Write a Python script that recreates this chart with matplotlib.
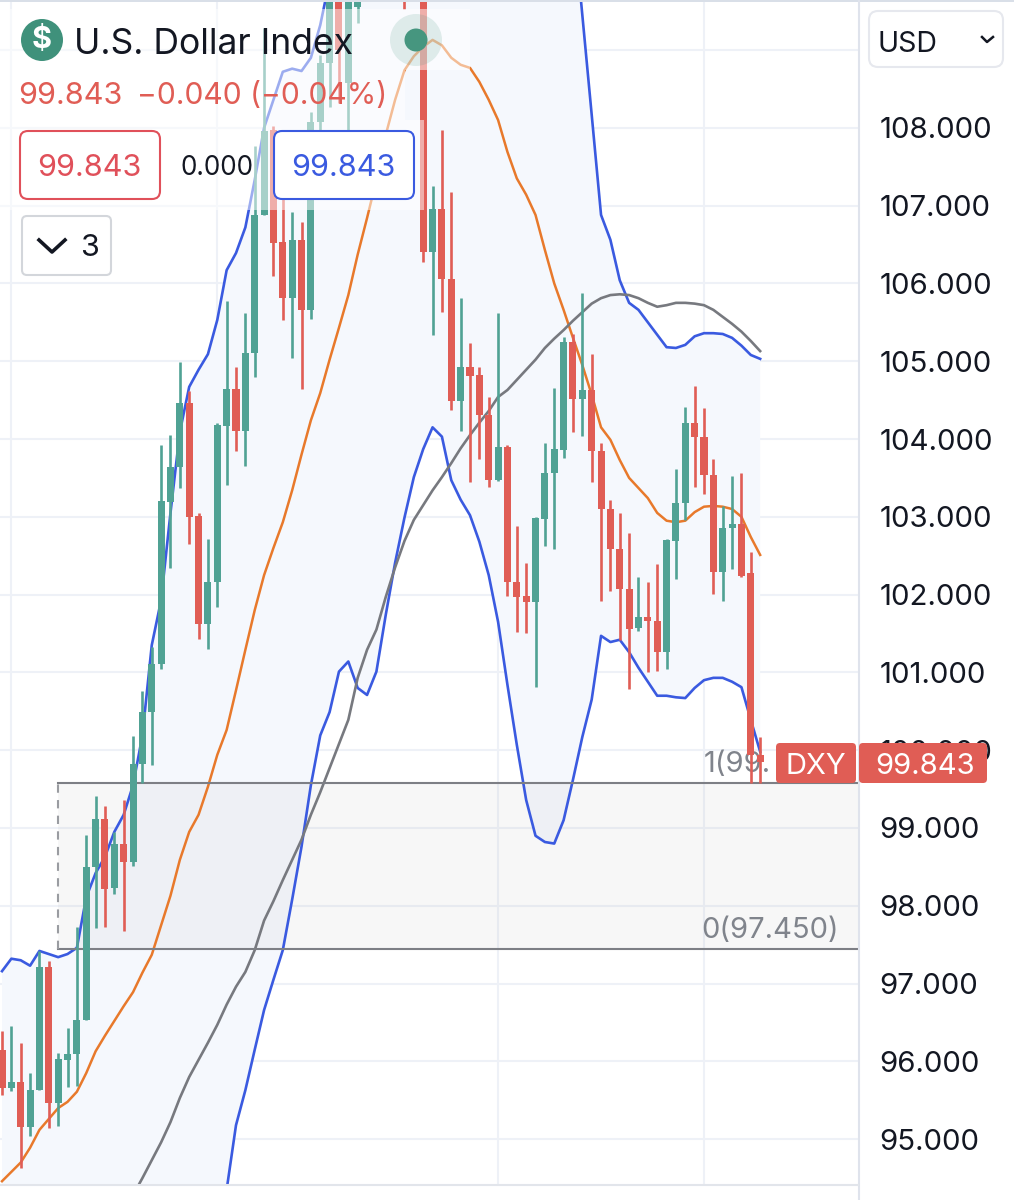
import numpy as np
import matplotlib
matplotlib.use("Agg")
import matplotlib.pyplot as plt
from matplotlib.patches import FancyBboxPatch, Rectangle, Circle

plt.rcParams['font.family'] = ['Inter', 'DejaVu Sans']

nan = np.nan

opens = [96.15,95.66,95.74,95.16,95.63,97.21,95.47,96.02,96.10,96.53,
         98.50,99.12,98.23,98.80,98.56,99.82,100.49,101.11,103.19,103.64,
         104.46,103.01,101.62,102.16,104.17,104.64,104.10,105.11,106.88,107.97,
         106.53,105.81,106.56,105.66,108.08,108.83,109.9,108.58,109.55,nan,
         nan,nan,nan,110.5,nan,110.3,106.40,106.96,106.06,104.49,
         104.93,104.82,104.31,103.47,103.90,102.16,101.98,101.90,102.97,103.56,
         103.86,105.25,104.51,104.63,103.85,103.10,102.59,102.07,101.57,101.71,
         101.66,101.26,102.69,103.18,104.21,104.03,103.54,102.29,102.86,102.91,
         102.28,99.94]
closes = [95.66,95.74,95.16,95.63,97.21,95.47,96.03,96.10,96.53,98.50,
          99.12,98.22,98.80,98.56,99.82,100.49,101.11,103.20,103.64,104.46,
          103.00,101.62,102.16,104.18,104.64,104.10,105.11,106.88,107.96,106.52,
          105.81,106.56,105.66,108.08,108.83,109.9,109.00,109.9,109.9,nan,
          nan,nan,nan,110.3,nan,106.40,106.96,106.06,104.49,104.93,
          104.81,104.31,103.47,103.90,102.16,101.97,101.90,102.98,103.56,103.87,
          105.25,104.51,104.63,103.85,103.10,102.59,102.07,101.56,101.71,101.66,
          101.26,102.70,103.18,104.21,104.03,103.54,102.29,102.86,102.91,102.24,
          99.94,99.843]
highs = [96.39,96.46,96.24,95.85,97.42,97.29,96.11,96.43,97.73,98.91,
         99.41,99.28,98.95,99.36,100.18,100.76,101.33,103.92,104.05,104.99,
         104.62,103.05,102.72,104.21,105.77,104.93,105.62,107.77,109.28,108.02,
         107.20,106.92,106.79,108.20,108.94,110,110,110,110,nan,
         nan,nan,nan,110.6,nan,110.6,107.25,107.97,107.17,105.81,
         105.23,104.93,104.54,105.62,103.92,102.88,102.41,103.00,103.95,104.66,
         105.31,105.35,105.88,105.09,103.95,103.22,103.05,102.79,102.23,102.16,
         102.39,102.71,103.61,104.41,104.68,104.40,103.74,103.14,103.53,103.56,
         102.55,100.17]
lows = [95.57,95.62,94.63,95.04,95.63,95.14,95.17,95.67,95.68,96.53,
        97.72,97.73,98.15,97.68,98.51,99.58,99.81,101.04,102.34,103.37,
        102.65,101.43,101.30,101.84,103.41,103.85,103.65,104.80,106.88,106.09,
        105.53,105.04,104.64,105.54,107.97,108.27,108.32,107.91,109.35,nan,
        nan,nan,nan,109.53,nan,106.28,105.34,105.63,104.37,104.10,
        103.45,103.74,103.38,103.46,101.98,101.52,101.51,100.81,102.63,102.59,
        103.76,104.09,104.04,103.45,101.92,102.05,101.42,100.79,101.53,101.00,
        101.02,101.04,102.20,102.96,103.38,103.29,102.01,101.92,102.33,102.23,
        99.58,99.58]

# bollinger bands (the stretch above the chart is only a guess, it gets clipped)
band_upper = [97.16,97.32,97.30,97.23,97.42,97.38,97.34,97.38,97.46,98.11,
              98.42,98.63,98.95,99.17,99.55,100.19,101.35,101.93,103.05,104.09,
              104.67,104.89,105.09,105.53,106.17,106.39,106.72,107.33,108.00,108.36,
              108.72,108.76,108.73,108.90,109.32,109.90] + [112.0] * 25 + [
              110.74,109.45,108.17,106.88,106.56,106.04,105.75,105.66,105.50,105.34,
              105.18,105.17,105.21,105.32,105.36,105.36,105.35,105.30,105.20,105.08,
              105.03]
band_lower = [93.5] * 24 + [94.35,95.18,95.63,96.15,96.66,97.05,
              97.43,98.08,98.76,99.55,100.19,100.49,101.01,101.14,100.80,100.71,
              101.01,101.74,102.41,102.99,103.51,103.87,104.15,104.03,103.47,103.22,
              103.02,102.68,102.25,101.65,100.84,100.07,99.36,98.90,98.82,98.80,
              99.10,99.62,100.17,100.65,101.47,101.39,101.42,101.26,101.06,100.88,
              100.70,100.70,100.68,100.67,100.80,100.90,100.93,100.93,100.88,100.81,
              100.39,99.98]
band_mid = [94.46,94.58,94.70,94.89,95.12,95.26,95.40,95.48,95.61,95.85,
            96.13,96.33,96.52,96.71,96.89,97.14,97.37,97.75,98.13,98.59,
            98.95,99.17,99.53,99.94,100.26,100.77,101.29,101.80,102.25,102.60,
            102.93,103.34,103.80,104.24,104.59,105.02,105.43,105.85,106.37,106.84,
            107.33,107.91,108.36,108.74,108.92,109.04,109.13,109.06,108.90,108.81,
            108.77,108.59,108.36,108.10,107.69,107.35,107.14,106.88,106.43,106.00,
            105.66,105.30,104.95,104.57,104.15,103.99,103.73,103.50,103.37,103.24,
            103.05,102.95,102.93,102.95,103.06,103.13,103.14,103.13,103.10,103.00,
            102.74,102.51]
long_ma = [nan] * 14 + [94.28,94.50,94.73,94.96,95.22,95.53,
           95.80,96.02,96.24,96.47,96.73,96.96,97.15,97.43,97.81,98.06,
           98.33,98.59,98.85,99.17,99.46,99.77,100.08,100.39,100.93,101.29,
           101.55,101.97,102.35,102.69,102.96,103.15,103.34,103.51,103.69,103.88,
           104.05,104.21,104.36,104.54,104.63,104.76,104.89,105.02,105.17,105.29,
           105.40,105.52,105.63,105.74,105.81,105.85,105.86,105.85,105.81,105.75,
           105.70,105.72,105.75,105.75,105.74,105.72,105.66,105.57,105.48,105.38,
           105.26,105.13]

price_ticks = list(range(95, 110))
# the 109 gridline has its label hidden behind the currency box
price_labels = [f"{p}.000" for p in range(95, 109)] + [""]
grid_candles = [1, 23, 53, 75]
fib_top = 99.58
fib_bottom = 97.45
fib_start = 6

GREEN = "#50a294"
RED = "#e05d55"
BLUE = "#3a5ae0"
ORANGE = "#e8792b"
GRAY = "#77797f"
GRID = "#eef1f7"
TEXT = "#131722"
LABEL_GRAY = "#80848c"

W, H = 1014, 1200
CHART_R, CHART_T, CHART_B = 858, 2, 1185
PX_PER_CANDLE = 9.36
PX_PER_POINT = 77.8


def rounded(ax, x0, y0, x1, y1, r, face, edge, lw=1.5, zorder=5):
    ax.add_patch(FancyBboxPatch((x0 + r, y0 + r), x1 - x0 - 2 * r, y1 - y0 - 2 * r,
                                boxstyle=f"round,pad={r},rounding_size={r}",
                                fc=face, ec=edge, lw=lw, zorder=zorder))


fig = plt.figure(figsize=(W / 100, H / 100), dpi=100, facecolor="white")
ax = fig.add_axes([0, (H - CHART_B) / H, CHART_R / W, (CHART_B - CHART_T) / H])

x = np.arange(len(closes))
opens_a, closes_a = np.array(opens), np.array(closes)
highs_a, lows_a = np.array(highs), np.array(lows)

ax.fill_between(x, band_lower, band_upper, color="#f5f8fd", lw=0, zorder=1)

ax.axhspan(fib_bottom, fib_top, xmin=(fib_start * PX_PER_CANDLE + 2) / CHART_R, xmax=1,
           color="#808080", alpha=0.06, lw=0, zorder=1.5)
ax.plot([fib_start, len(x) + 10], [fib_top, fib_top], color="#7d7f85", lw=1.5, zorder=3)
ax.plot([fib_start, len(x) + 10], [fib_bottom, fib_bottom], color="#7d7f85", lw=1.5, zorder=3)
ax.plot([fib_start, fib_start], [fib_bottom, fib_top], color="#9a9ca1", lw=1.5,
        ls=(0, (4, 3.5)), zorder=3)

ax.text(75, fib_top + 0.27, "1(99.", color=LABEL_GRAY, fontsize=21, ha="left", va="center_baseline", zorder=3)
ax.text(75 - 0.25, fib_bottom + 0.27, "0(97.450)", color=LABEL_GRAY, fontsize=21, ha="left", va="center_baseline", zorder=3)

ax.plot(x, band_upper, color=BLUE, lw=1.9, zorder=2)
ax.plot(x, band_lower, color=BLUE, lw=1.9, zorder=2)
ax.plot(x, band_mid, color=ORANGE, lw=1.8, zorder=2)
ax.plot(x, long_ma, color=GRAY, lw=1.9, zorder=2)

up = closes_a >= opens_a
ok = ~np.isnan(closes_a)
colors = np.where(up, GREEN, RED)
ax.vlines(x[ok], lows_a[ok], highs_a[ok], colors=colors[ok], lw=1.9, zorder=4)
ax.bar(x[ok], np.abs(closes_a - opens_a)[ok], bottom=np.minimum(opens_a, closes_a)[ok],
       width=0.75, color=colors[ok], lw=0, zorder=4)

ax.set_xlim(-2 / PX_PER_CANDLE, (CHART_R - 2) / PX_PER_CANDLE)
ax.set_ylim(99 + (828 - CHART_B) / PX_PER_POINT, 99 + (828 - CHART_T) / PX_PER_POINT)
ax.set_xticks(grid_candles)
ax.set_xticklabels([])
ax.set_yticks(price_ticks)
ax.set_yticklabels(price_labels)
ax.yaxis.tick_right()
ax.tick_params(axis="both", length=0)
ax.tick_params(axis="y", pad=15.5, labelsize=21.2, labelcolor=TEXT)
ax.grid(True, color=GRID, lw=1.5, zorder=0)
ax.set_axisbelow(True)
for spine in ax.spines.values():
    spine.set_visible(False)

# everything sitting on top of the chart is laid out in screen pixels
ui = fig.add_axes([0, 0, 1, 1], zorder=10)
ui.set_xlim(0, W)
ui.set_ylim(H, 0)
ui.axis("off")
ui.patch.set_visible(False)

ui.add_patch(Rectangle((0, 0), W, 2, fc="#d9dfe8", lw=0))
ui.plot([CHART_R + 1, CHART_R + 1], [0, H], color="#dfe3ec", lw=1.5, zorder=1)
ui.plot([0, CHART_R], [CHART_B, CHART_B], color="#e2e5eb", lw=1.5, zorder=1)

# translucent legend rows
for x0, y0, x1, y1 in [(0, 9, 470, 70), (0, 70, 405, 120), (0, 120, 424, 210)]:
    ui.add_patch(Rectangle((x0, y0), x1 - x0, y1 - y0, fc="white", alpha=0.5, lw=0, zorder=2))

CB = "center_baseline"
ui.add_patch(Circle((42, 40), 21, fc="#3f917b", lw=0, zorder=5))
ui.text(42, 40, "$", color="white", fontsize=22, fontweight="bold", ha="center", va="center", zorder=6)
ui.text(74, 41, "U.S. Dollar Index", color=TEXT, fontsize=25.6, ha="left", va=CB, zorder=6)
ui.text(18, 93, "99.843", color=RED, fontsize=22, ha="left", va=CB, zorder=6)
ui.text(137, 93, "\u22120.040 (\u22120.04%)", color=RED, fontsize=21.6, ha="left", va=CB, zorder=6)

rounded(ui, 20, 131, 160, 199, 8, "white", "#e0505a")
ui.text(89, 165, "99.843", color="#e0505a", fontsize=22, ha="center", va=CB, zorder=6)
ui.text(217, 165, "0.000", color=TEXT, fontsize=18.8, ha="center", va=CB, zorder=6)
rounded(ui, 274, 131, 414, 199, 8, "white", BLUE)
ui.text(343, 165, "99.843", color=BLUE, fontsize=22, ha="center", va=CB, zorder=6)

rounded(ui, 22, 216, 111, 275, 5, "white", "#d3d6db")
ui.plot([39, 52, 65], [240, 252, 240], color=TEXT, lw=2.6, zorder=6)
ui.text(90, 245, "3", color=TEXT, fontsize=22, ha="center", va=CB, zorder=6)

ui.add_patch(Circle((416, 40), 26, fc="#3f917b", alpha=0.15, lw=0, zorder=5))
ui.add_patch(Circle((416, 40), 11.5, fc="#46967f", lw=0, zorder=6))

rounded(ui, 869, 11, 1003, 67, 9, "white", "#e6e8ee")
ui.text(878, 42, "USD", color=TEXT, fontsize=20.5, ha="left", va=CB, zorder=6)
ui.plot([982, 987, 993], [37, 42, 37], color=TEXT, lw=1.8, zorder=6)

rounded(ui, 776, 743, 856, 783, 4, RED, RED, lw=0)
ui.text(816, 763, "DXY", color="white", fontsize=21, ha="center", va=CB, zorder=6)
rounded(ui, 859, 743, 987, 783, 4, RED, RED, lw=0)
ui.text(925, 763, "99.843", color="white", fontsize=21, ha="center", va=CB, zorder=6)

fig.savefig("out.png", dpi=100)
